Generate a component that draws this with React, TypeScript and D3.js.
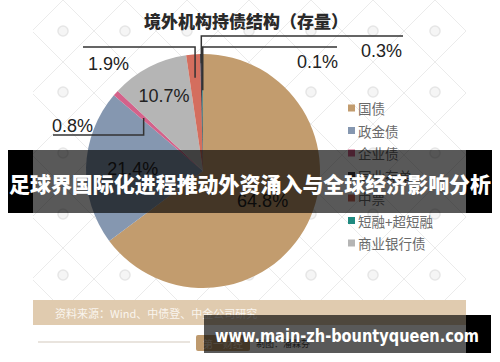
import * as d3 from "d3";

// pie slices, clockwise from 12 o'clock
const categories = ["国债", "政金债", "企业债", "商业银行债", "中票", "同业存单", "短融+超短融"];
const shares = [64.8, 21.4, 0.8, 10.7, 1.9, 0.3, 0.1];
const sliceColors = ["#C29C6E", "#8597B0", "#D4628A", "#B5B5B5", "#D46E5E", "#3E3B45", "#1F8A80"];
const legendOrder = ["国债", "政金债", "企业债", "同业存单", "中票", "短融+超短融", "商业银行债"];

const title = "境外机构持债结构（存量）";
const bannerText = "足球界国际化进程推动外资涌入与全球经济影响分析";
const sourceText = "资料来源：Wind、中债登、中金公司研究";
const urlText = "www.main-zh-bountyqueen.com";

const W = 500;
const H = 362;
const cx = 203;
const cy = 171;
const R = 117;
const numFont = "'Liberation Sans', Arial, 'Noto Sans CJK SC', sans-serif";
const cjkFont = "'Noto Sans CJK SC', 'Noto Sans', sans-serif";

// labels drawn inside the slice: radius factor
const insideLabels: Record<string, number> = { 国债: 0.57, 政金债: 0.6, 商业银行债: 0.72 };
// labels with elbow leader lines
const leaderLabels: Record<string, { rf: number; elbowY: number; endX: number; tx: number; ty: number; anchor: string }> = {
  企业债: { rf: 0.68, elbowY: 135, endX: 53, tx: 52, ty: 132, anchor: "start" },
  中票: { rf: 0.8, elbowY: 47, endX: 83, tx: 88, ty: 70, anchor: "start" },
  同业存单: { rf: 0.92, elbowY: 36, endX: 403, tx: 402, ty: 57, anchor: "end" },
  "短融+超短融": { rf: 0.69, elbowY: 47, endX: 337, tx: 338, ty: 68, anchor: "end" },
};

const data = categories.map((c, i) => ({ name: c, value: shares[i] }));
const color = d3.scaleOrdinal<string, string>().domain(categories).range(sliceColors);

export default function App() {
  const arcs = d3.pie<{ name: string; value: number }>().value((d) => d.value).sort(null)(data);
  const arcGen = d3.arc<d3.PieArcDatum<{ name: string; value: number }>>().innerRadius(0).outerRadius(R);
  const legendY = d3.scalePoint<string>().domain(legendOrder).range([108, 243]);

  const polar = (a: number, r: number) => [cx + Math.sin(a) * r, cy - Math.cos(a) * r];

  // faint diamond lattice behind the chart
  const latticeLines: string[] = [];
  for (let k = -8; k < 16; k++) {
    const c1 = 125 + 62 * k;
    latticeLines.push(`M${c1 - 400},400 L${c1 + 100},-100`);
    const c2 = 63 + 62 * k;
    latticeLines.push(`M${c2 - 100},-100 L${c2 + 400},400`);
  }
  const icons: [number, number][] = [];
  for (let i = 0; i < 7; i++) for (let j = 0; j < 5; j++) icons.push([63 + 62 * i, 31 + 61 * j]);

  return (
    <svg width={W} height={H} style={{ position: "absolute", left: 0, top: 0, background: "#fff" }}>
      <defs>
        <clipPath id="imgClip">
          <rect x={33} y={0} width={433} height={300} />
        </clipPath>
      </defs>
      <g clipPath="url(#imgClip)">
        {latticeLines.map((d, i) => (
          <path key={i} d={d} stroke="#ebebeb" strokeWidth={1} fill="none" />
        ))}
        {icons.map(([x, y], i) => (
          <circle key={i} cx={x} cy={y} r={5} fill="#f5f5f5" stroke="#e6e6e6" strokeWidth={1.5} />
        ))}
      </g>

      <text x={246} y={20} textAnchor="middle" dominantBaseline="central" fontFamily={cjkFont} fontWeight={900} fontSize={17} fill="#2a2a2a">
        {title}
      </text>

      <g transform={`translate(${cx},${cy})`}>
        {arcs.map((a) => (
          <path key={a.data.name} d={arcGen(a) || ""} fill={color(a.data.name)} />
        ))}
      </g>

      {arcs
        .filter((a) => insideLabels[a.data.name] !== undefined)
        .map((a) => {
          const [x, y] = polar((a.startAngle + a.endAngle) / 2, R * insideLabels[a.data.name]);
          return (
            <text key={a.data.name} x={x} y={y} textAnchor="middle" dominantBaseline="central" fontFamily={numFont} fontSize={18} fill="#222">
              {a.data.value.toFixed(1)}%
            </text>
          );
        })}

      {arcs
        .filter((a) => leaderLabels[a.data.name])
        .map((a) => {
          const s = leaderLabels[a.data.name];
          const [x, y] = polar((a.startAngle + a.endAngle) / 2, R * s.rf);
          return (
            <g key={a.data.name}>
              <path d={`M${x},${y} L${x},${s.elbowY} L${s.endX},${s.elbowY}`} fill="none" stroke="#333" strokeWidth={1.5} />
              <text x={s.tx} y={s.ty} textAnchor={s.anchor} fontFamily={numFont} fontSize={18} fill="#222">
                {a.data.value.toFixed(1)}%
              </text>
            </g>
          );
        })}

      {legendOrder.map((name) => (
        <g key={name} transform={`translate(348,${legendY(name)})`}>
          <rect x={0} y={-3.5} width={7} height={7} fill={color(name)} />
          <text x={10} y={0} dominantBaseline="central" fontFamily={cjkFont} fontSize={13.5} fill="#6a6a6a">
            {name}
          </text>
        </g>
      ))}

      {/* source strip and footer */}
      <rect x={33} y={300} width={433} height={25} fill="#E0CBAF" />
      <text x={55} y={312.5} dominantBaseline="central" fontFamily={cjkFont} fontSize={11} fill="#faf5ee">
        {sourceText}
      </text>
      <line x1={38} x2={190} y1={342} y2={342} stroke="#e2dbd3" strokeWidth={1.5} />
      <rect x={196} y={335} width={54} height={16} rx={2} fill="#BE9A6E" />
      <text x={223} y={343} textAnchor="middle" dominantBaseline="central" fontFamily={cjkFont} fontSize={10} fill="#e8d8c2">
        第一财经
      </text>
      <text x={256} y={343} dominantBaseline="central" fontFamily={cjkFont} fontSize={9} fill="#444">
        制图：潘霖芬
      </text>

      {/* overlay banner */}
      <rect x={8} y={150} width={25} height={63} fill="#000" />
      <rect x={466} y={150} width={26} height={63} fill="#000" />
      <rect x={33} y={150} width={433} height={63} fill="rgba(0,0,0,0.65)" />
      <text x={250} y={183} textAnchor="middle" dominantBaseline="central" fontFamily={cjkFont} fontWeight={900} fontSize={21} textLength={482} lengthAdjust="spacingAndGlyphs" fill="#fff">
        {bannerText}
      </text>

      {/* url banner */}
      <rect x={204} y={315} width={262} height={38} fill="rgba(0,0,0,0.65)" />
      <rect x={466} y={315} width={25} height={38} fill="#000" />
      <text x={347} y={336} textAnchor="middle" dominantBaseline="central" fontFamily="'DejaVu Sans', sans-serif" fontWeight="bold" fontSize={17} textLength={264} lengthAdjust="spacingAndGlyphs" fill="#fff">
        {urlText}
      </text>
    </svg>
  );
}
